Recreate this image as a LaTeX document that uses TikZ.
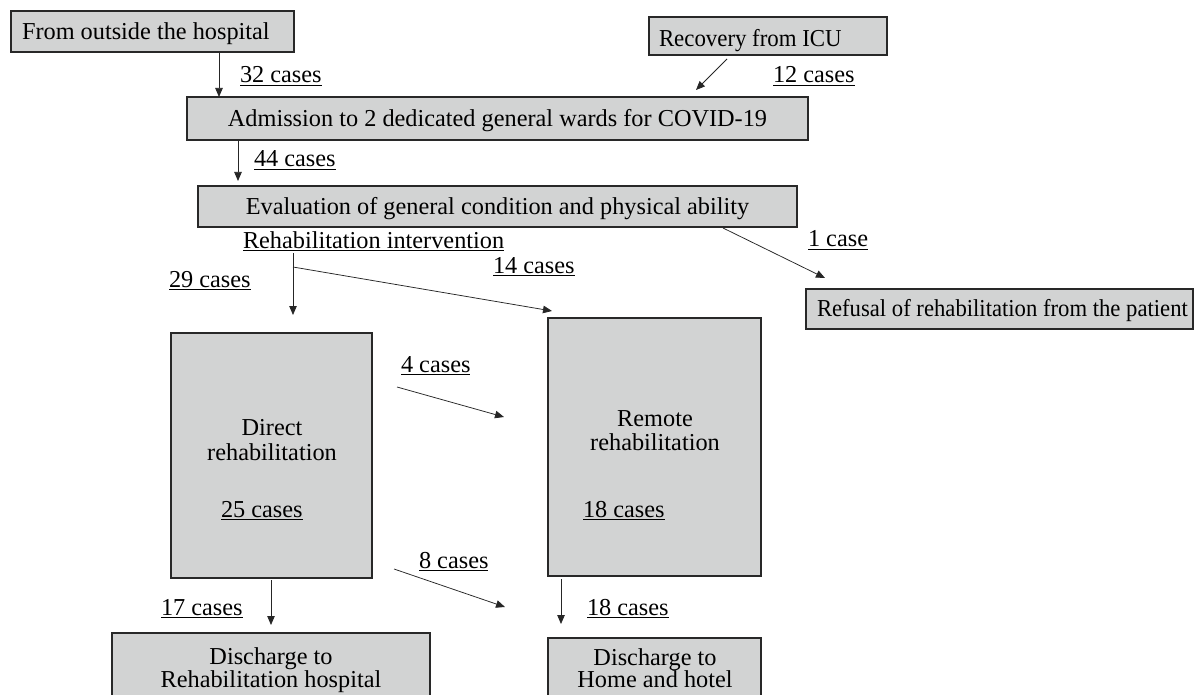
\documentclass[tikz,border=0pt]{standalone}
\usepackage{fontspec}
\usepackage{graphicx}
\setmainfont{Liberation Serif}
\usetikzlibrary{arrows.meta}
\definecolor{boxgray}{RGB}{210,211,211}
\definecolor{edge}{RGB}{40,40,40}
\newcommand\bigfnt{\fontsize{24.3}{24}\selectfont}
\newcommand\uln[1]{\leavevmode\setbox0\hbox{#1}\rlap{\rule[-3pt]{\wd0}{1pt}}\box0}
\tikzset{
  box/.style={draw=edge, line width=1.2pt, fill=boxgray, inner sep=0pt, outer sep=0pt,
    font=\bigfnt, text height=16pt, text depth=0pt},
  lbl/.style={inner sep=0pt, outer sep=0pt, anchor=base west, font=\bigfnt},
  ctext/.style={inner sep=0pt, outer sep=0pt, anchor=base, font=\bigfnt},
  arr/.style={-{Triangle[length=9pt,width=7.5pt]}, line width=0.75pt, draw=black!85},
}
\begin{document}
\begin{tikzpicture}[x=1pt,y=-1pt]
\clip (0,0) rectangle (1194,695);
\fill[white] (0,0) rectangle (1194,695);

% boxes
\node[box, minimum width=283pt, minimum height=41pt] (ext) at (152.5,31.5) {};
\node[box, minimum width=238pt, minimum height=38pt] (icu) at (768,36) {};
\node[box, minimum width=621pt, minimum height=43pt] (adm) at (497.5,118.5) {Admission to 2 dedicated general wards for COVID-19};
\node[box, minimum width=599pt, minimum height=41pt] (eval) at (497.5,206.5) {Evaluation of general condition and physical ability};
\node[box, minimum width=387pt, minimum height=40pt] (ref) at (999.5,309) {};
\node[box, minimum width=201pt, minimum height=245pt] (direct) at (271.5,455.5) {};
\node[box, minimum width=213pt, minimum height=258pt] (remote) at (654.5,447) {};
\node[box, minimum width=318pt, minimum height=87pt] (dis1) at (271,676.5) {};
\node[box, minimum width=213pt, minimum height=82pt] (dis2) at (654.5,679) {};

% texts inside boxes
\node[lbl] (text) at (22,40) {From outside the hospital};
\node[lbl] (ticu) at (659,47) {\scalebox{0.94}[1]{Recovery from ICU}};
\node[lbl] (tref) at (817,316) {\scalebox{0.933}[1]{Refusal of rehabilitation from the patient}};
\node[ctext] (t1) at (272,435) {Direct};
\node[ctext] (t2) at (272,460) {rehabilitation};
\node[lbl] (c25) at (221,517) {\uln{25 cases}};
\node[ctext] (t3) at (655,426) {Remote};
\node[ctext] (t4) at (655,450) {rehabilitation};
\node[lbl] (c18a) at (583,517) {\uln{18 cases}};
\node[ctext] (t5) at (271,664) {Discharge to};
\node[ctext] (t6) at (271,687) {Rehabilitation hospital};
\node[ctext] (t7) at (655,665) {Discharge to};
\node[ctext] (t8) at (655,687) {Home and hotel};

% labels
\node[lbl] (c32) at (240,83) {\uln{32 cases}};
\node[lbl] (c12) at (773,83) {\uln{12 cases}};
\node[lbl] (c44) at (254,167) {\uln{44 cases}};
\node[lbl] (rint) at (243,248) {\uln{Rehabilitation intervention}};
\node[lbl] (c1) at (808,247) {\uln{1 case}};
\node[lbl] (c29) at (169,287) {\uln{29 cases}};
\node[lbl] (c14) at (493,273) {\uln{14 cases}};
\node[lbl] (c4) at (401,372) {\uln{4 cases}};
\node[lbl] (c8) at (419,568) {\uln{8 cases}};
\node[lbl] (c17) at (161,615) {\uln{17 cases}};
\node[lbl] (c18b) at (587,615) {\uln{18 cases}};

% connector coordinates
\coordinate (x32) at (219,0);
\coordinate (icuS) at (727,59);
\coordinate (icuE) at (696,90);
\coordinate (x44) at (238,0);
\coordinate (e44) at (238,181);
\coordinate (evS) at (723,228);
\coordinate (evE) at (825,278);
\coordinate (rS) at (293,253);
\coordinate (rE) at (293,315);
\coordinate (rB) at (293,267);
\coordinate (rD) at (552,311);
\coordinate (f4s) at (397,387);
\coordinate (f4e) at (504,417);
\coordinate (f8s) at (394,569);
\coordinate (f8e) at (505,607);
\coordinate (x17) at (271,0);
\coordinate (e17) at (271,625);
\coordinate (x18) at (561,0);
\coordinate (e18) at (561,624);

% connectors
\draw[arr] (ext.south -| x32) -- (adm.north -| x32);
\draw[arr] (icuS) -- (icuE);
\draw[arr] ([yshift=-1pt]adm.south -| x44) -- (e44);
\draw[arr] (evS) -- (evE);
\draw[arr] (rS) -- (rE);
\draw[arr] (rB) -- (rD);
\draw[arr] (f4s) -- (f4e);
\draw[arr] (f8s) -- (f8e);
\draw[arr] ([yshift=-2pt]direct.south -| x17) -- (e17);
\draw[arr] ([yshift=-3pt]remote.south -| x18) -- (e18);
\end{tikzpicture}
\end{document}
